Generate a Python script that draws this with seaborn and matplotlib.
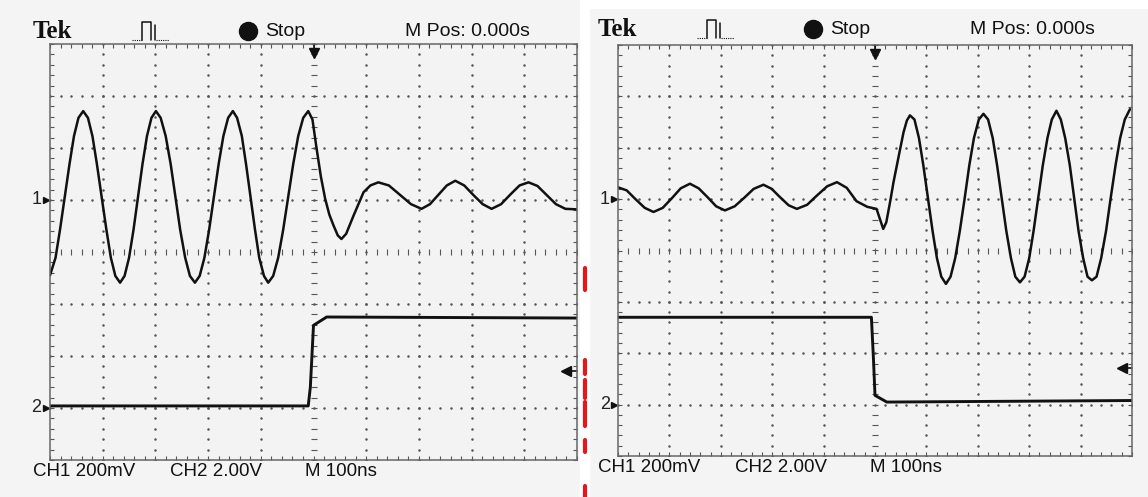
import matplotlib
matplotlib.use('Agg')
import matplotlib.pyplot as plt
import seaborn as sns
import numpy as np
from matplotlib.lines import Line2D
from matplotlib.ticker import MultipleLocator

# time axis in divisions (M 100ns/div), amplitude in divisions
left_ch1_t = [-5.00, -4.895, -4.81, -4.72, -4.63, -4.545, -4.46, -4.37,
              -4.28, -4.195, -4.11, -4.02, -3.93, -3.845, -3.76, -3.67,
              -3.585, -3.50, -3.415, -3.33, -3.245, -3.16, -3.075, -2.99,
              -2.90, -2.805, -2.71, -2.62, -2.53, -2.435, -2.345, -2.25,
              -2.16, -2.07, -1.98, -1.89, -1.80, -1.71, -1.62, -1.53,
              -1.45, -1.36, -1.28, -1.195, -1.11, -1.03, -0.94, -0.86,
              -0.765, -0.67, -0.575, -0.48, -0.385, -0.29, -0.195, -0.10,
              -0.02, 0.06, 0.14, 0.22, 0.30, 0.38, 0.46, 0.53, 0.62, 0.76, 0.95, 1.08, 1.23,
              1.43, 1.64, 1.85, 2.05, 2.21, 2.37, 2.53, 2.69, 2.86, 3.03, 3.21, 3.38,
              3.56, 3.73, 3.91, 4.08, 4.25, 4.42, 4.60, 4.78, 5.00]
left_ch1_v = [-0.45, -0.11, 0.43, 1.06, 1.69, 2.23, 2.58, 2.71,
              2.58, 2.23, 1.69, 1.06, 0.43, -0.11, -0.46, -0.59,
              -0.46, -0.11, 0.43, 1.06, 1.69, 2.23, 2.58, 2.71,
              2.58, 2.23, 1.69, 1.06, 0.43, -0.11, -0.46, -0.59,
              -0.46, -0.11, 0.43, 1.06, 1.69, 2.23, 2.58, 2.71,
              2.58, 2.23, 1.69, 1.06, 0.43, -0.11, -0.46, -0.59,
              -0.46, -0.11, 0.43, 1.06, 1.69, 2.23, 2.58, 2.71,
              2.55, 1.98, 1.45, 1.03, 0.72, 0.51, 0.32, 0.25, 0.35, 0.70, 1.15, 1.28, 1.34,
              1.28, 1.10, 0.92, 0.83, 0.92, 1.10, 1.28, 1.37, 1.28, 1.10, 0.92, 0.83,
              0.92, 1.10, 1.28, 1.34, 1.27, 1.10, 0.92, 0.83, 0.82]
left_ch2_t = [-5.00, -0.10, -0.06, 0.00, 0.25, 5.00]
left_ch2_v = [-2.96, -2.96, -2.60, -1.41, -1.25, -1.27]

right_ch1_t = [-5.00, -4.83, -4.66, -4.48, -4.31, -4.13, -3.95, -3.78, -3.60, -3.43, -3.26, -3.09,
               -2.92, -2.73, -2.54, -2.36, -2.17, -2.01, -1.85, -1.68, -1.52, -1.32, -1.13, -0.93,
               -0.74, -0.55, -0.36, -0.15, 0.03, 0.16,
               0.22, 0.30, 0.36, 0.43, 0.49, 0.555, 0.62, 0.68,
               0.7675, 0.855, 0.94, 1.03, 1.12, 1.205, 1.29, 1.38,
               1.47, 1.56, 1.65, 1.745, 1.835, 1.925, 2.02, 2.11,
               2.20, 2.29, 2.375, 2.465, 2.555, 2.645, 2.73, 2.82,
               2.91, 3.00, 3.085, 3.175, 3.265, 3.355, 3.44, 3.53,
               3.615, 3.70, 3.79, 3.875, 3.96, 4.05, 4.135, 4.22,
               4.31, 4.40, 4.495, 4.585, 4.68, 4.77, 4.86, 4.96]
right_ch1_v = [1.23, 1.17, 1.00, 0.83, 0.75, 0.83, 1.02, 1.21, 1.30, 1.21, 1.04, 0.86,
               0.78, 0.86, 1.03, 1.20, 1.28, 1.20, 1.04, 0.88, 0.81, 0.89, 1.07, 1.25,
               1.33, 1.22, 0.96, 0.85, 0.81, 0.42,
               0.55, 0.98, 1.33, 1.68, 1.98, 2.30, 2.53, 2.63,
               2.55, 2.19, 1.66, 1.02, 0.38, -0.15, -0.51, -0.65,
               -0.51, -0.15, 0.38, 1.02, 1.66, 2.19, 2.55, 2.66,
               2.55, 2.19, 1.66, 1.02, 0.38, -0.15, -0.51, -0.62,
               -0.51, -0.15, 0.38, 1.02, 1.66, 2.19, 2.55, 2.72,
               2.55, 2.19, 1.66, 1.02, 0.38, -0.15, -0.51, -0.58,
               -0.51, -0.15, 0.38, 1.02, 1.66, 2.19, 2.55, 2.75]
right_ch2_t = [-5.00, -0.07, -0.03, 0.00, 0.23, 5.00]
right_ch2_v = [-1.30, -1.30, -2.11, -2.82, -2.95, -2.92]

ch1_ref = 1.0
ch2_ref = -3.0
trig_level = -2.28
header = ['Tek', 'Stop', 'M Pos: 0.000s']
footer = ['CH1 200mV', 'CH2 2.00V', 'M 100ns']

W, H = 1148, 497
SCREEN = '#f3f3f3'
INK = '#111111'
GRID = '#555555'


def fx(px):
    return px / W


def fy(py):
    return 1 - py / H


def draw_screen(ax, ch1_t, ch1_v, ch2_t, ch2_v):
    ax.set_facecolor(SCREEN)
    fine_x = np.arange(-5, 5.01, 0.2)
    fine_y = np.arange(-4, 4.01, 0.2)
    # graticule
    for gy in range(-3, 4):
        if gy == 0:
            ax.plot(fine_x, np.zeros_like(fine_x), ls='none', marker='|', ms=4, mew=0.8, color=GRID)
        else:
            ax.plot(fine_x, np.full_like(fine_x, gy), ls='none', marker='.', ms=1.6, color=GRID)
    for gx in range(-4, 5):
        if gx == 0:
            ax.plot(np.zeros_like(fine_y), fine_y, ls='none', marker='_', ms=4, mew=0.8, color=GRID)
        else:
            ax.plot(np.full_like(fine_y, gx), fine_y, ls='none', marker='.', ms=1.6, color=GRID)

    sns.lineplot(x=ch1_t, y=ch1_v, ax=ax, sort=False, estimator=None, color=INK, lw=1.8)
    sns.lineplot(x=ch2_t, y=ch2_v, ax=ax, sort=False, estimator=None, color=INK, lw=2.1)

    ax.set_xlim(-5, 5)
    ax.set_ylim(-4, 4)
    ax.xaxis.set_minor_locator(MultipleLocator(0.2))
    ax.yaxis.set_minor_locator(MultipleLocator(0.2))
    ax.xaxis.set_major_locator(MultipleLocator(1))
    ax.yaxis.set_major_locator(MultipleLocator(1))
    ax.tick_params(which='both', direction='in', top=True, right=True, bottom=True, left=True,
                   labelbottom=False, labelleft=False, length=3, width=0.8, color=GRID)
    for sp in ax.spines.values():
        sp.set_color('#666666')
        sp.set_linewidth(1.1)
    ax.set_xlabel('')
    ax.set_ylabel('')

    # trigger position arrow (top) and trigger level arrow (right)
    ax.plot([0, 0], [4.0, 3.85], color=INK, lw=1.2, clip_on=False)
    ax.plot(0, 3.82, marker='v', ms=7, color=INK, clip_on=False)
    ax.plot([4.78, 5.0], [trig_level, trig_level], color=INK, lw=1.2, clip_on=False)
    ax.plot(4.8, trig_level, marker='<', ms=7, color=INK, clip_on=False)

    # channel reference markers
    for ref, name in [(ch1_ref, '1'), (ch2_ref, '2')]:
        ax.plot(-5.07, ref, marker='>', ms=4, color=INK, clip_on=False)
        ax.text(-5.16, ref, name, ha='right', va='center', fontsize=13, color='#222222',
                family='Liberation Sans')


def draw_labels(fig, x0, y_head, y_foot):
    # x0 is the pixel x of "Tek" in this panel
    fig.text(fx(x0), fy(y_head), header[0], ha='left', va='center', fontsize=18,
             fontweight='bold', family='Liberation Serif', color=INK)
    # pulse icon
    bx = x0 + 99
    top, base = y_head - 9, y_head + 9
    fig.add_artist(Line2D([fx(bx), fx(bx + 10)], [fy(base), fy(base)], transform=fig.transFigure,
                          color=INK, lw=0.8, ls=(0, (1, 1))))
    fig.add_artist(Line2D([fx(bx + 10), fx(bx + 10), fx(bx + 19), fx(bx + 19)],
                          [fy(base), fy(top), fy(top), fy(base)],
                          transform=fig.transFigure, color=INK, lw=1.1))
    fig.add_artist(Line2D([fx(bx + 23), fx(bx + 23)], [fy(top + 3), fy(base)],
                          transform=fig.transFigure, color=INK, lw=1.1))
    fig.add_artist(Line2D([fx(bx + 24), fx(bx + 37)], [fy(base), fy(base)], transform=fig.transFigure,
                          color=INK, lw=0.8, ls=(0, (1, 1))))
    # stop dot + text
    fig.add_artist(Line2D([fx(x0 + 215)], [fy(y_head)], transform=fig.transFigure,
                          marker='o', ms=13, color=INK))
    fig.text(fx(x0 + 232), fy(y_head), header[1], ha='left', va='center', fontsize=14,
             family='Liberation Sans', color=INK)
    fig.text(fx(x0 + 372), fy(y_head), header[2], ha='left', va='center', fontsize=14,
             family='Liberation Sans', color=INK)
    # footer
    for dx, lab in zip([0, 137, 272], footer):
        fig.text(fx(x0 + dx), fy(y_foot), lab, ha='left', va='center', fontsize=13.5,
                 family='Liberation Sans', color=INK)


sns.set_theme(style='white')
plt.rcParams['font.family'] = ['Liberation Sans', 'DejaVu Sans']

fig = plt.figure(figsize=(W / 100, H / 100), dpi=100)
fig.patch.set_facecolor('#f4f4f4')

# white gap between the two scans and blank strip above the right one
fig.patches.append(plt.Rectangle((fx(580), 0), fx(589) - fx(580), 1, transform=fig.transFigure,
                                 color='white', zorder=0))
fig.patches.append(plt.Rectangle((fx(589), fy(8)), 1 - fx(589), 8 / H, transform=fig.transFigure,
                                 color='white', zorder=0))
# red scan marks along the gap
for y1, y2 in [(268, 290), (360, 374), (380, 398), (402, 426), (440, 452), (486, 497)]:
    fig.add_artist(Line2D([fx(585), fx(585)], [fy(y1), fy(y2)], transform=fig.transFigure,
                          color='#e8161b', lw=3, solid_capstyle='round'))

ax_l = fig.add_axes([fx(50), fy(460), (577 - 50) / W, (460 - 44) / H])
ax_r = fig.add_axes([fx(618), fy(456), (1132 - 618) / W, (456 - 45) / H])

draw_screen(ax_l, left_ch1_t, left_ch1_v, left_ch2_t, left_ch2_v)
draw_screen(ax_r, right_ch1_t, right_ch1_v, right_ch2_t, right_ch2_v)

draw_labels(fig, 33, 31, 471)
draw_labels(fig, 598, 29, 467)

fig.savefig('out.png', dpi=100, facecolor=fig.get_facecolor())
